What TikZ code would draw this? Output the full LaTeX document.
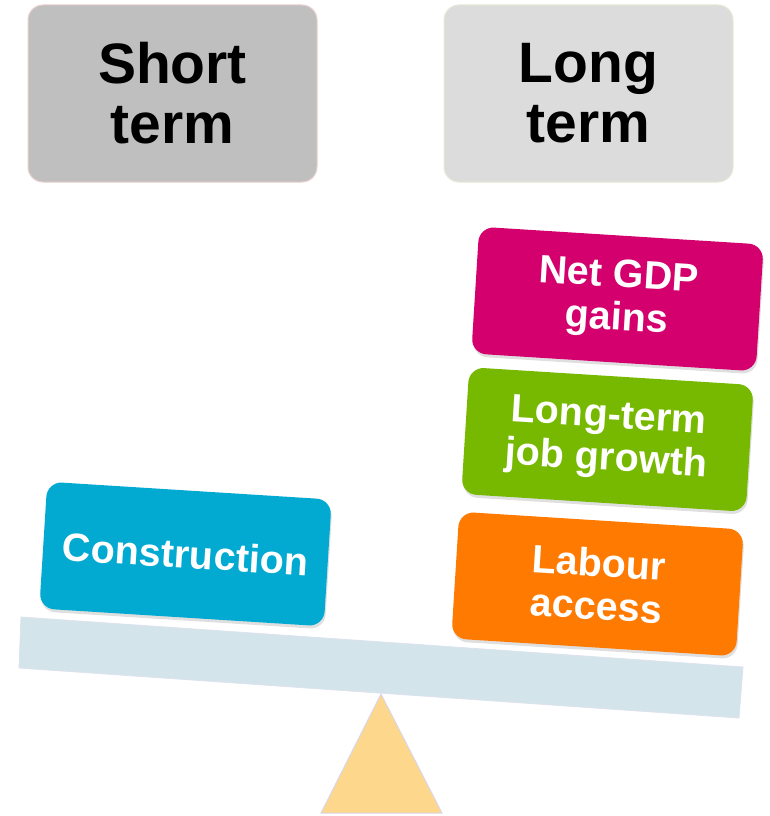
\documentclass[tikz,border=0pt]{standalone}
\usepackage{fontspec}
\setmainfont{Liberation Sans}
\usepackage{tikz}
\usetikzlibrary{shadows}
\definecolor{shortgray}{HTML}{BFBFBF}
\definecolor{longgray}{HTML}{DCDCDC}
\definecolor{shortline}{HTML}{EBCFCF}
\definecolor{longline}{HTML}{E3EAD6}
\definecolor{conscyan}{HTML}{02AAD2}
\definecolor{gdpmagenta}{HTML}{D3006E}
\definecolor{jobgreen}{HTML}{77B900}
\definecolor{labourorange}{HTML}{FF7A00}
\definecolor{beamblue}{HTML}{D4E4EB}
\definecolor{beamline}{HTML}{DCE2EE}
\definecolor{pivotyellow}{HTML}{FDD78B}
\definecolor{pivotline}{HTML}{DAD6EA}
\newcommand{\weight}[5]{\node[block, fill=#1] (#2) at ( #3 , #4 ) {#5};}

\begin{document}
\begin{tikzpicture}[x=1pt, y=-1pt,
    term/.style={rounded corners=15pt, minimum width=289pt, minimum height=177pt,
        align=center, line width=1pt, font=\fontsize{57}{60}\selectfont\bfseries},
    block/.style={rounded corners=15pt, minimum width=285pt, minimum height=127pt,
        align=center, text=white, rotate=-3.6, font=\fontsize{39.5}{43}\selectfont\bfseries,
        drop shadow={opacity=0.25, shadow xshift=1pt, shadow yshift=-3pt}}]
    \useasboundingbox (0,0) rectangle (769,816);
    % headings
    \node[term, fill=shortgray, draw=shortline] (short) at (172.5,93.5) {Short\\term};
    \node[term, fill=longgray, draw=longline] (long) at (588.5,93.5) {Long\\term};
    % pivot and beam
    \filldraw[fill=pivotyellow, draw=pivotline, line width=1pt] (381,694) -- (442,813) -- (321,813) -- cycle;
    \filldraw[fill=beamblue, draw=beamline, line width=0.8pt] (21,617) -- (743,667) -- (739,718) -- (19,668) -- cycle;
    % left pan
    \weight{conscyan}{construction}{185.5}{554}{Construction}
    % right pan
    \weight{labourorange}{labour}{597.5}{584}{Labour\\access}
    \weight{jobgreen}{jobs}{607.5}{439.5}{Long-term\\job growth}
    \weight{gdpmagenta}{gdp}{617.5}{299}{Net GDP\\gains}
\end{tikzpicture}
\end{document}
